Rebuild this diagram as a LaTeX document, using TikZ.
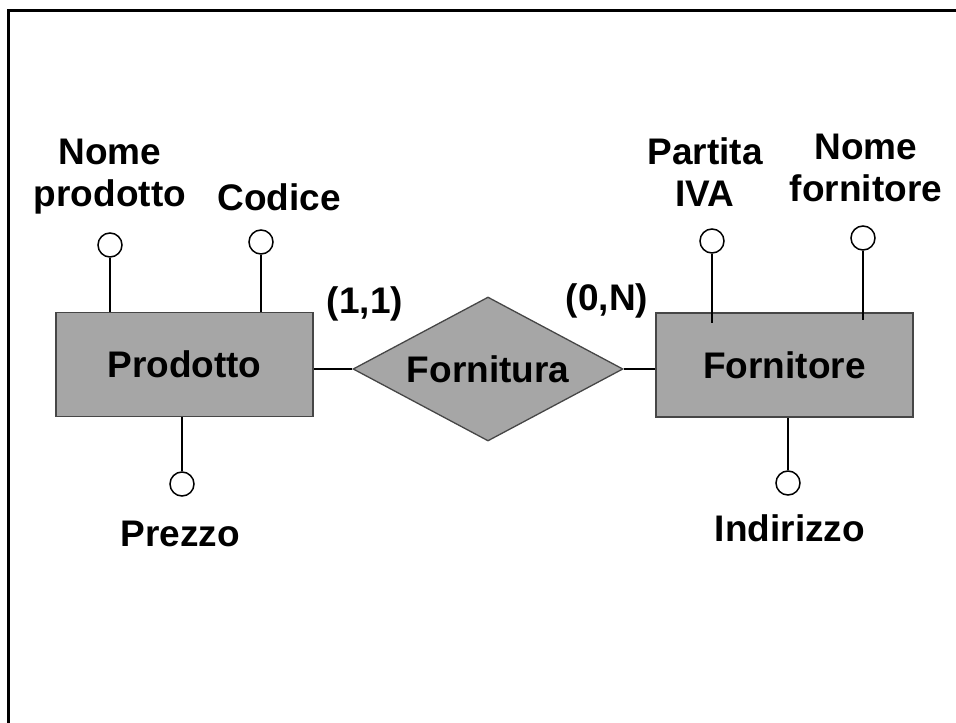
\documentclass[tikz,border=0pt]{standalone}
\usepackage{fontspec}
\setmainfont{Liberation Sans}
\usetikzlibrary{shapes.geometric}
\definecolor{erfill}{RGB}{166,166,166}
\definecolor{erborder}{RGB}{70,70,70}
\newcommand\erlbl{\bfseries\fontsize{37}{42}\selectfont}
\begin{document}
\begin{tikzpicture}[x=1pt,y=-1pt,
  ent/.style={rectangle, draw=erborder, line width=1.3pt, fill=erfill, minimum width=257pt, minimum height=104pt, inner sep=0pt, font=\erlbl},
  rel/.style={diamond, draw=erborder, line width=1.3pt, fill=erfill, minimum width=270pt, minimum height=144pt, inner sep=0pt, aspect=1.875, font=\erlbl},
  attr/.style={circle, draw=black, line width=1.5pt, fill=white, minimum size=24pt, inner sep=0pt},
  lab/.style={font=\erlbl, align=center, inner sep=0pt},
  conn/.style={line width=2pt, draw=black},
  frame/.style={line width=3pt, draw=black}]
\useasboundingbox (0,0) rectangle (956,723);
\draw[frame] (8.5,723) -- (8.5,10.5) -- (956,10.5);

% entities and relationship
\node[ent] (prod) at (184.5,364.5) {Prodotto};
\node[ent] (forn) at (784.5,365) {Fornitore};
\node[rel] (fornit) at (488,369) {Fornitura};

% attribute circles
\node[attr] (anp) at (110,245) {};
\node[attr] (acod) at (261,242) {};
\node[attr] (apr) at (182,484) {};
\node[attr] (apiva) at (712,241) {};
\node[attr] (anf) at (863,238) {};
\node[attr] (aind) at (788,483) {};

% free ends inside Fornitore
\coordinate (pivaend) at (712,323);
\coordinate (nfend) at (863,320);

% connectors
\draw[conn] (fornit.west) -- (fornit.west -| prod.east);
\draw[conn] (fornit.east) -- (fornit.east -| forn.west);
\draw[conn] (anp.south) -- (anp.south |- prod.north);
\draw[conn] (acod.south) -- (acod.south |- prod.north);
\draw[conn] (apr.north) -- (apr.north |- prod.south);
\draw[conn] (apiva.south) -- (pivaend);
\draw[conn] (anf.south) -- (nfend);
\draw[conn] (aind.north) -- (aind.north |- forn.south);

% labels
\node[lab, anchor=north] (lnp) at (110,139) {Nome\\prodotto};
\node[lab, anchor=base] (lcod) at (279,210) {Codice};
\node[lab, anchor=base] (lpr) at (180,546) {Prezzo};
\node[lab, anchor=north] (lpiva) at (705,137) {Partita\\IVA};
\node[lab, anchor=north] (lnf) at (866,134) {Nome\\fornitore};
\node[lab, anchor=base] (lind) at (790,541) {Indirizzo};
\node[lab] (c11) at (365,304) {(1,1)};
\node[lab] (c0n) at (607,301) {(0,N)};
\end{tikzpicture}
\end{document}
